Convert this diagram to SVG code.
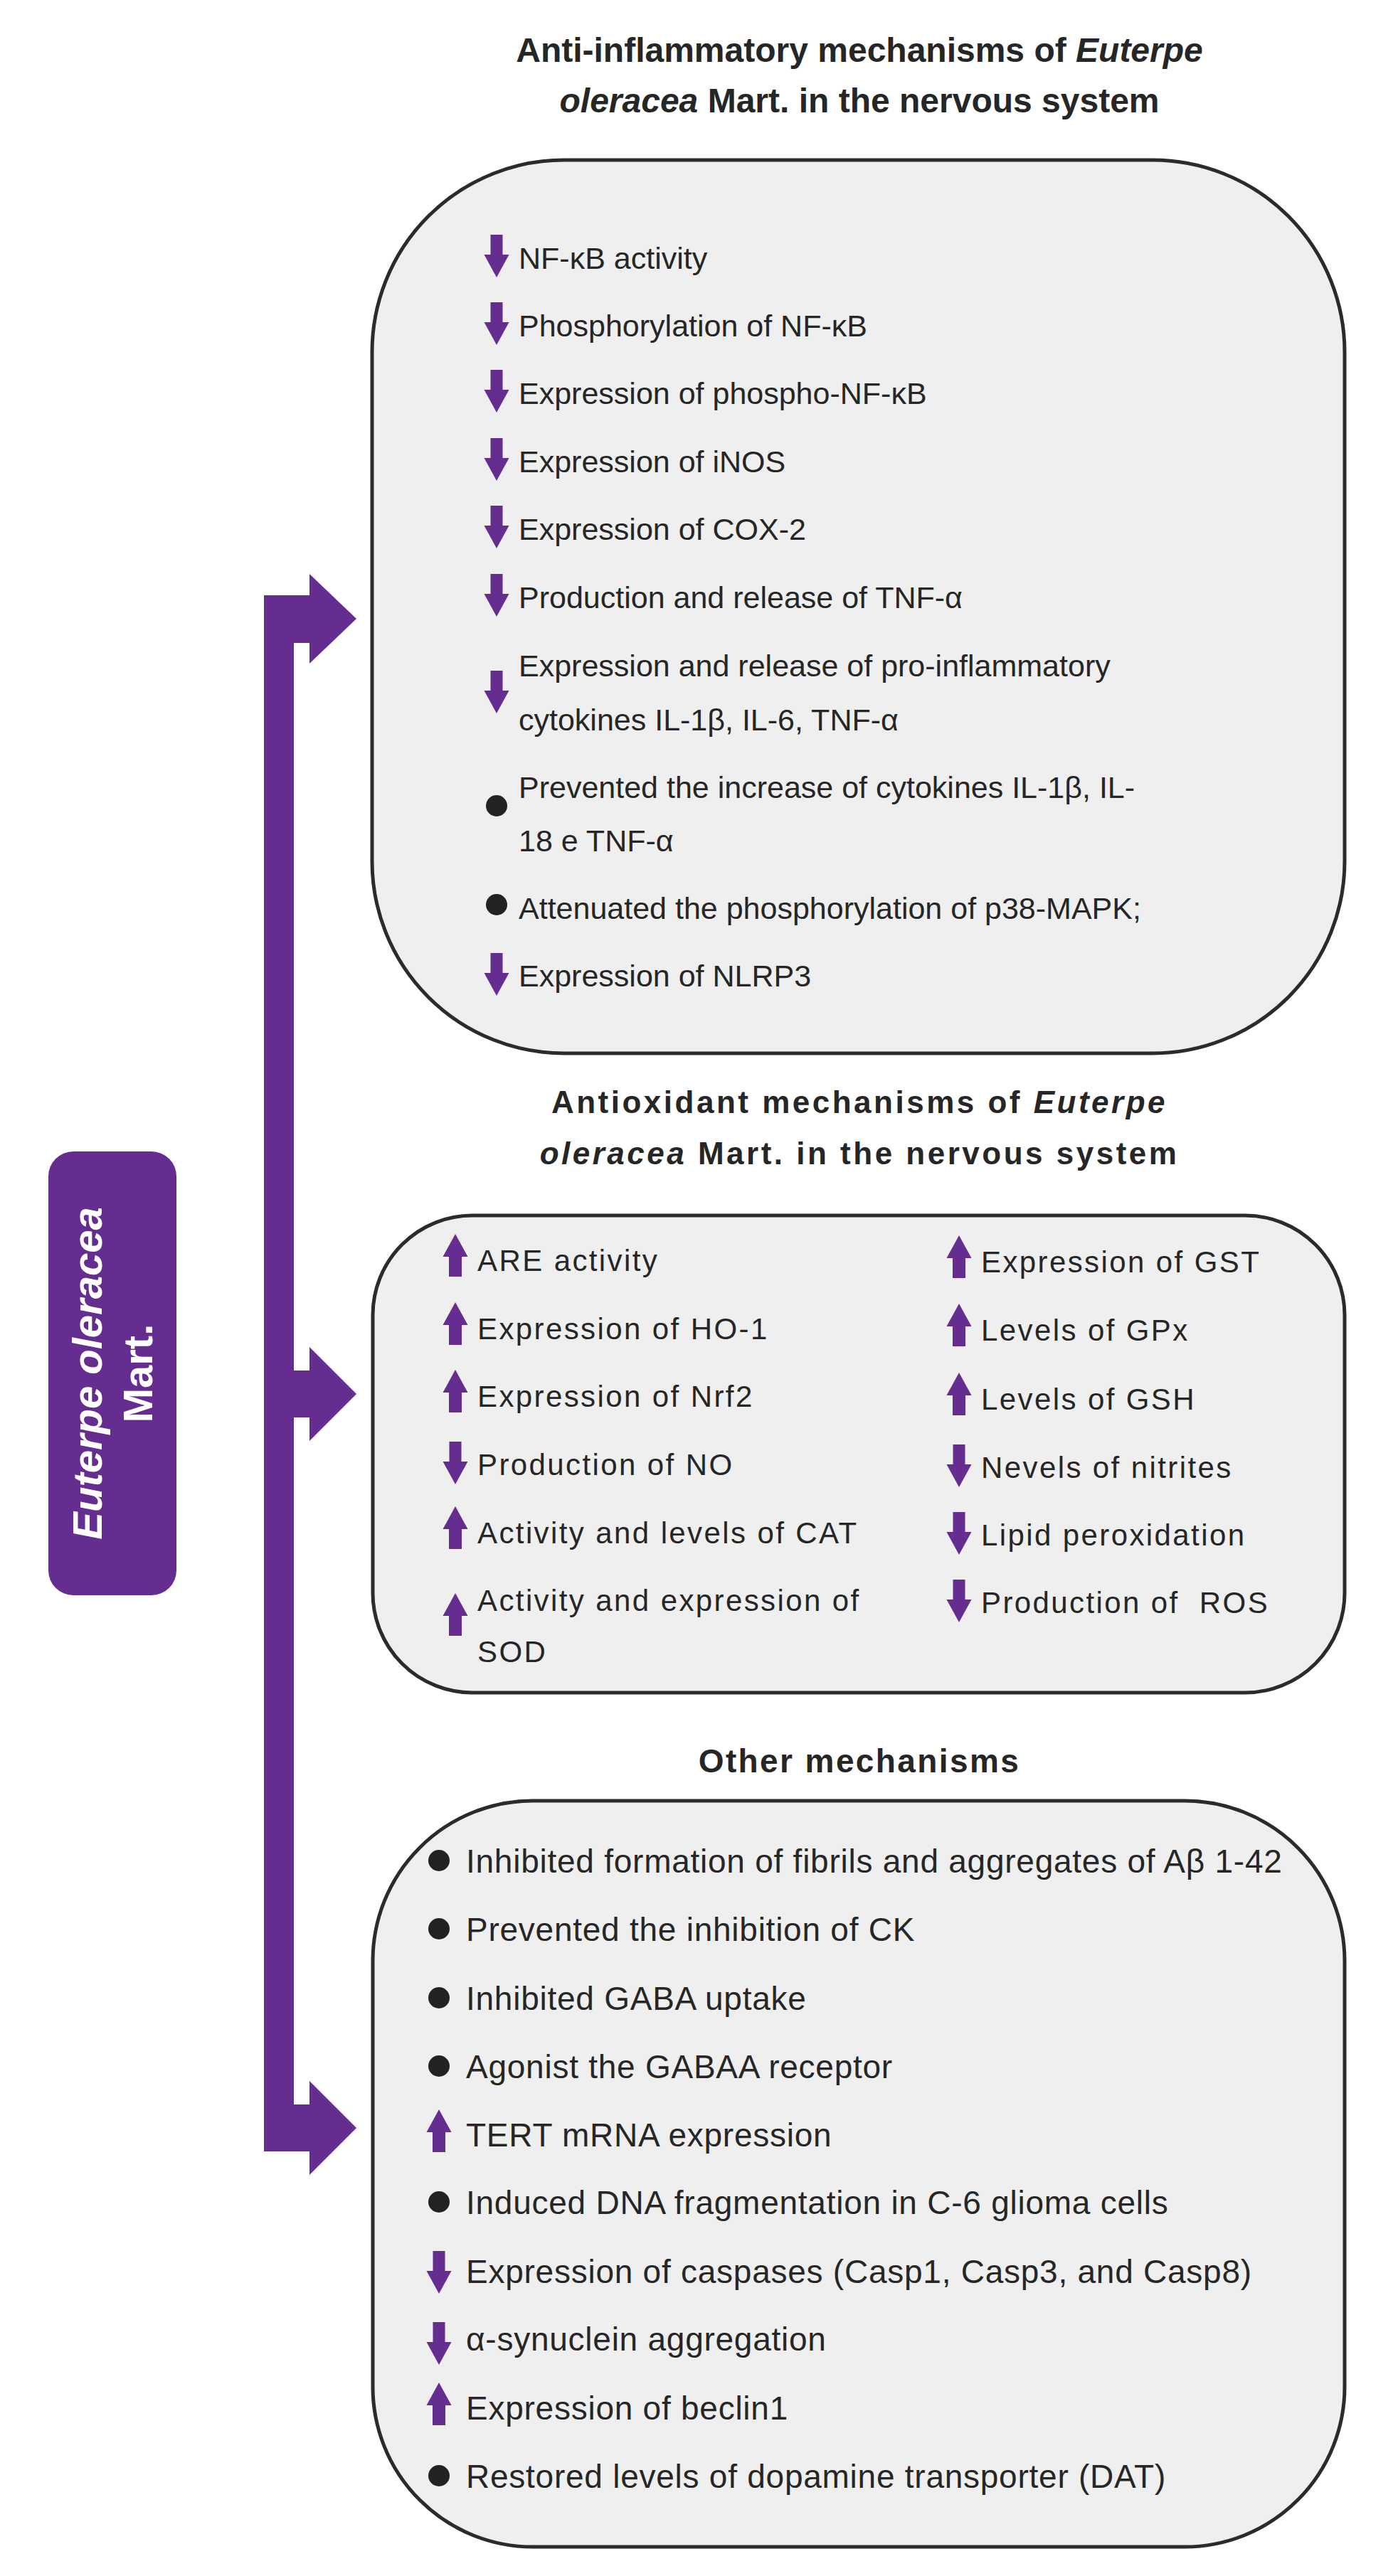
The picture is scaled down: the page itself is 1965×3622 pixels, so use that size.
<svg xmlns="http://www.w3.org/2000/svg" xmlns:xlink="http://www.w3.org/1999/xlink" width="1965" height="3622" viewBox="0 0 1965 3622">
<style>
.box{fill:#efefef;stroke:#2b2b2b;stroke-width:5}
.t1{font-family:"Liberation Sans",Arial,sans-serif;font-size:43px;fill:#262626}
.t2{font-family:"Liberation Sans",Arial,sans-serif;font-size:42px;letter-spacing:2.4px;fill:#262626}
.t3{font-family:"Liberation Sans",Arial,sans-serif;font-size:46px;letter-spacing:0.75px;fill:#262626}
.h{font-family:"Liberation Sans",Arial,sans-serif;font-weight:bold;fill:#262626;text-anchor:middle}
.pur{fill:#662d91}
.dot{fill:#222}
</style>
<defs>
<path id="dn" class="pur" d="M-8.5,0 H8.5 V28 H17.5 L0,60 L-17.5,28 H-8.5 Z"/>
<path id="up" class="pur" d="M0,0 L17.5,32 H9 V60 H-9 V32 H-17.5 Z"/>
</defs>
<rect width="1965" height="3622" fill="#fff"/>

<g id="connectors">
<path class="pur" d="M371,837 H435 V807 L501,870 L435,933 V904 H413 V1927 H435 V1894 L501,1960 L435,2026 V1993 H413 V2959 H435 V2926 L501,2992 L435,3058 V3025 H371 Z"/>
</g>

<g id="source">
<rect x="68" y="1619" width="180" height="624" rx="35" class="pur"/>
<g transform="rotate(-90 158 1931)" style="font-family:'Liberation Sans',Arial,sans-serif;font-weight:bold;font-size:58px;fill:#fff;text-anchor:middle">
<text x="158" y="1916" font-style="italic">Euterpe oleracea</text>
<text x="158" y="1987">Mart.</text>
</g>
</g>

<g id="antiinflammatory">
<text class="h" style="font-size:48px"><tspan x="1208" y="87">Anti-inflammatory mechanisms of <tspan font-style="italic">Euterpe</tspan></tspan><tspan x="1208" y="158"><tspan font-style="italic">oleracea</tspan> Mart. in the nervous system</tspan></text>
<rect class="box" x="523" y="225" width="1367" height="1256" rx="270"/>
<use xlink:href="#dn" x="698" y="330"/><text class="t1" x="729" y="378">NF-κB activity</text>
<use xlink:href="#dn" x="698" y="425"/><text class="t1" x="729" y="473">Phosphorylation of NF-κB</text>
<use xlink:href="#dn" x="698" y="520"/><text class="t1" x="729" y="568">Expression of phospho-NF-κB</text>
<use xlink:href="#dn" x="698" y="616"/><text class="t1" x="729" y="664">Expression of iNOS</text>
<use xlink:href="#dn" x="698" y="711"/><text class="t1" x="729" y="759">Expression of COX-2</text>
<use xlink:href="#dn" x="698" y="807"/><text class="t1" x="729" y="855">Production and release of TNF-α</text>
<use xlink:href="#dn" x="698" y="943"/><text class="t1" x="729" y="951">Expression and release of pro-inflammatory</text><text class="t1" x="729" y="1027">cytokines IL-1β, IL-6, TNF-α</text>
<circle class="dot" cx="698" cy="1133" r="15"/><text class="t1" x="729" y="1122">Prevented the increase of cytokines IL-1β, IL-</text><text class="t1" x="729" y="1197">18 e TNF-α</text>
<circle class="dot" cx="698" cy="1272" r="15"/><text class="t1" x="729" y="1292">Attenuated the phosphorylation of p38-MAPK;</text>
<use xlink:href="#dn" x="698" y="1340"/><text class="t1" x="729" y="1387">Expression of NLRP3</text>
</g>

<g id="antioxidant">
<text class="h" style="font-size:44px;letter-spacing:3.5px"><tspan x="1208" y="1565">Antioxidant mechanisms of <tspan font-style="italic">Euterpe</tspan></tspan><tspan x="1208" y="1637"><tspan font-style="italic">oleracea</tspan> Mart. in the nervous system</tspan></text>
<rect class="box" x="524" y="1709" width="1366" height="671" rx="140"/>
<use xlink:href="#up" x="640" y="1735"/><text class="t2" x="671" y="1787">ARE activity</text>
<use xlink:href="#up" x="640" y="1831"/><text class="t2" x="671" y="1883">Expression of HO-1</text>
<use xlink:href="#up" x="640" y="1926"/><text class="t2" x="671" y="1978">Expression of Nrf2</text>
<use xlink:href="#dn" x="640" y="2027"/><text class="t2" x="671" y="2074">Production of NO</text>
<use xlink:href="#up" x="640" y="2118"/><text class="t2" x="671" y="2170">Activity and levels of CAT</text>
<use xlink:href="#up" x="640" y="2240"/><text class="t2" x="671" y="2265">Activity and expression of</text><text class="t2" x="671" y="2337">SOD</text>
<use xlink:href="#up" x="1348" y="1737"/><text class="t2" x="1379" y="1789">Expression of GST</text>
<use xlink:href="#up" x="1348" y="1833"/><text class="t2" x="1379" y="1885">Levels of GPx</text>
<use xlink:href="#up" x="1348" y="1930"/><text class="t2" x="1379" y="1982">Levels of GSH</text>
<use xlink:href="#dn" x="1348" y="2031"/><text class="t2" x="1379" y="2078">Nevels of nitrites</text>
<use xlink:href="#dn" x="1348" y="2126"/><text class="t2" x="1379" y="2173">Lipid peroxidation</text>
<use xlink:href="#dn" x="1348" y="2221"/><text class="t2" x="1379" y="2268" xml:space="preserve">Production of  ROS</text>
</g>

<g id="other">
<text class="h" x="1208" y="2492" style="font-size:46px;letter-spacing:2.4px">Other mechanisms</text>
<rect class="box" x="524" y="2532" width="1366" height="1049" rx="225"/>
<circle class="dot" cx="617" cy="2616" r="15"/><text class="t3" x="655" y="2633">Inhibited formation of fibrils and aggregates of Aβ 1-42</text>
<circle class="dot" cx="617" cy="2712" r="15"/><text class="t3" x="655" y="2729">Prevented the inhibition of CK</text>
<circle class="dot" cx="617" cy="2809" r="15"/><text class="t3" x="655" y="2826">Inhibited GABA uptake</text>
<circle class="dot" cx="617" cy="2905" r="15"/><text class="t3" x="655" y="2922">Agonist the GABAA receptor</text>
<use xlink:href="#up" x="617" y="2966"/><text class="t3" x="655" y="3018">TERT mRNA expression</text>
<circle class="dot" cx="617" cy="3096" r="15"/><text class="t3" x="655" y="3113">Induced DNA fragmentation in C-6 glioma cells</text>
<use xlink:href="#dn" x="617" y="3165"/><text class="t3" x="655" y="3210">Expression of caspases (Casp1, Casp3, and Casp8)</text>
<use xlink:href="#dn" x="617" y="3265"/><text class="t3" x="655" y="3305">α-synuclein aggregation</text>
<use xlink:href="#up" x="617" y="3350"/><text class="t3" x="655" y="3402">Expression of beclin1</text>
<circle class="dot" cx="617" cy="3481" r="15"/><text class="t3" x="655" y="3498">Restored levels of dopamine transporter (DAT)</text>
</g>
</svg>
